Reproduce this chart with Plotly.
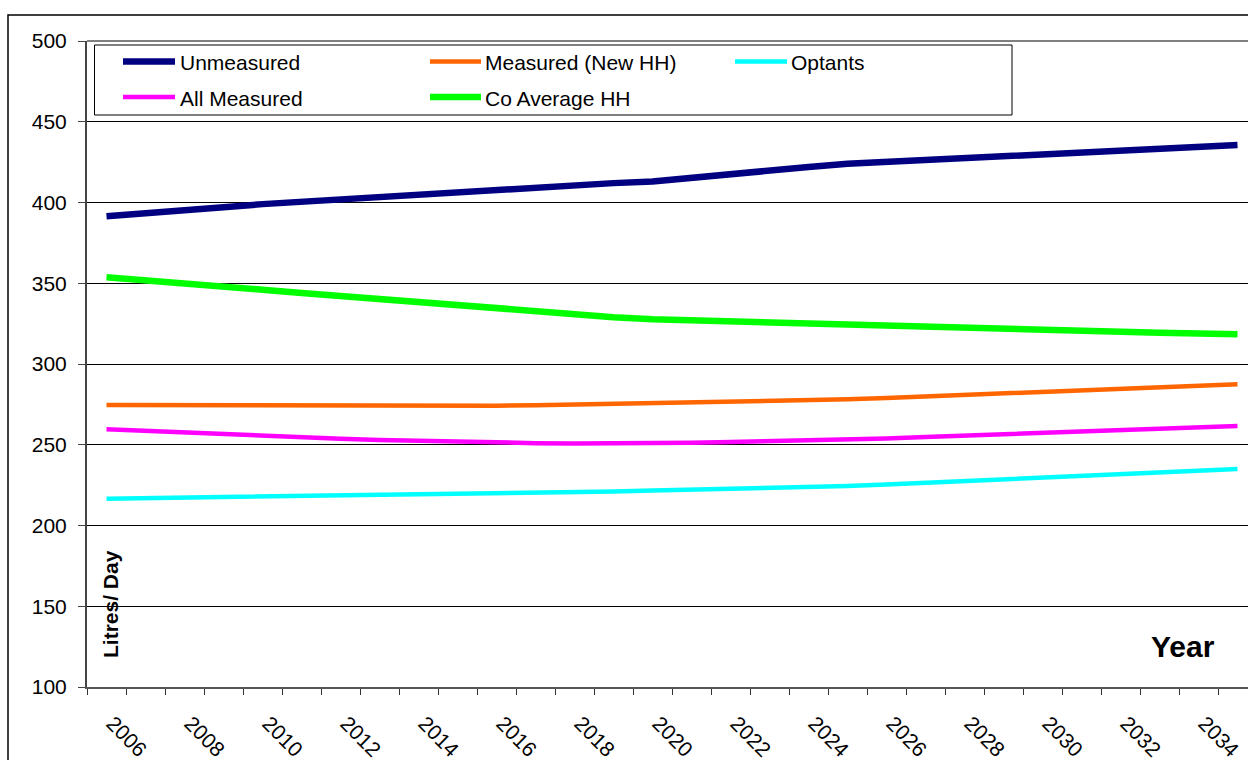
import plotly.graph_objects as go

years = list(range(2006, 2036))

unmeasured = [391.5, 393, 395, 397, 399, 400.5, 402, 403.5, 405, 406.5,
              408, 409.5, 411, 412, 413, 415.5, 418, 420, 422, 424,
              425.2, 426.4, 427.6, 428.8, 430, 431.2, 432.4, 433.5, 434.6, 435.6]
measured_new = [274.6, 274.5, 274.4, 274.3, 274.2, 274.1, 274, 274, 274, 274,
                274.2, 274.5, 274.9, 275.4, 276, 276.4, 276.8, 277.2, 277.6, 278.1,
                279, 279.9, 280.8, 281.7, 282.6, 283.6, 284.5, 285.5, 286.5, 287.4]
optants = [216.6, 216.9, 217.2, 217.5, 217.8, 218.1, 218.4, 218.7, 219.1, 219.5,
           219.9, 220.3, 220.7, 221.1, 221.6, 222.1, 222.6, 223.2, 223.8, 224.4,
           225.4, 226.4, 227.5, 228.5, 229.6, 230.7, 231.8, 232.9, 234, 235]
all_measured = [259.6, 258.5, 257.5, 256.5, 255.5, 254.5, 253.7, 253, 252.4, 251.8,
                251.3, 251, 250.8, 250.8, 250.9, 251.3, 251.7, 252.1, 252.5, 253,
                253.9, 254.8, 255.7, 256.6, 257.5, 258.3, 259.1, 259.9, 260.8, 261.6]
co_average = [353.7, 352, 350, 348, 346, 344, 342, 340, 338.5, 336.5,
              334.5, 332.5, 330.5, 329, 327.7, 327, 326.2, 325.5, 324.8, 324.2,
              323.5, 322.8, 322.2, 321.5, 320.9, 320.3, 319.8, 319.3, 318.9, 318.4]

label_years = list(range(2006, 2035, 2))
tick_labels = [str(y) for y in label_years]
y_ticks = list(range(100, 501, 50))

series = [
    ("Unmeasured", unmeasured, "#000080", 6.5),
    ("Measured (New HH)", measured_new, "#FF6600", 4.5),
    ("Optants", optants, "#00FFFF", 4.5),
    ("All Measured", all_measured, "#FF00FF", 4.5),
    ("Co Average HH", co_average, "#00FF00", 6.5),
]

FONT = "Arial, Liberation Sans, sans-serif"
W, H = 1248, 760
L, T, B = 87, 41, 73
PW = W - L
PH = H - T - B

def px(x):
    return (x - L) / PW

def py(y):
    return (H - B - y) / PH

fig = go.Figure()
for name, vals, color, width in series:
    fig.add_trace(go.Scatter(x=years, y=vals, mode="lines", name=name,
                             line=dict(color=color, width=width),
                             showlegend=False))

shapes = []
annotations = []

# outer chart border
shapes.append(dict(type="rect", xref="paper", yref="paper",
                   x0=px(8), x1=px(1300), y0=py(820), y1=py(15),
                   line=dict(color="black", width=1.5), fillcolor="rgba(0,0,0,0)",
                   layer="above"))
# top plot border (grey)
shapes.append(dict(type="line", xref="paper", yref="paper",
                   x0=0, x1=1, y0=1, y1=1, line=dict(color="#808080", width=2)))

# legend box
shapes.append(dict(type="rect", xref="paper", yref="paper",
                   x0=px(94.5), x1=px(1012), y0=py(115), y1=py(45),
                   line=dict(color="black", width=1), fillcolor="white",
                   layer="above"))

legend_pos = [
    (123, 175, 178, 61.5),
    (430, 481, 483, 61.5),
    (735, 787, 789, 61.5),
    (123, 175, 178, 97),
    (430, 481, 483, 97),
]
for (name, vals, color, width), (lx0, lx1, tx, ly) in zip(series, legend_pos):
    shapes.append(dict(type="line", xref="paper", yref="paper",
                       x0=px(lx0), x1=px(lx1), y0=py(ly), y1=py(ly),
                       line=dict(color=color, width=width), layer="above"))
    annotations.append(dict(xref="paper", yref="paper", x=px(tx), y=py(ly + 1),
                            xanchor="left", yanchor="middle", showarrow=False,
                            text=name, font=dict(family=FONT, size=21, color="black")))

annotations.append(dict(xref="paper", yref="paper", x=px(110), y=py(604),
                        text="<b>Litres/ Day</b>", textangle=-90, showarrow=False,
                        xanchor="center", yanchor="middle",
                        font=dict(family=FONT, size=21, color="black")))
annotations.append(dict(xref="paper", yref="paper", x=px(1183), y=py(646),
                        text="<b>Year</b>", showarrow=False,
                        xanchor="center", yanchor="middle",
                        font=dict(family=FONT, size=30, color="black")))

fig.update_layout(
    width=W, height=H,
    margin=dict(l=L, r=0, t=T, b=B, pad=0),
    paper_bgcolor="white", plot_bgcolor="white",
    font=dict(family=FONT, size=21, color="black"),
    shapes=shapes, annotations=annotations,
    xaxis=dict(
        type="linear", range=[2005.5, 2005.5 + PW / 39.0],
        tickmode="array", tickvals=label_years, ticktext=tick_labels,
        tickangle=45, ticks="", ticklabelstandoff=14, ticklabelshift=6,
        tickfont=dict(family=FONT, size=21, color="black"),
        showgrid=False, zeroline=False,
        showline=True, linecolor="#555555", linewidth=2,
        minor=dict(tickmode="array", tickvals=[y - 0.5 for y in years] + [2035.5],
                   ticks="outside", ticklen=6, tickcolor="#333333", tickwidth=1,
                   showgrid=False),
    ),
    yaxis=dict(
        range=[100, 500], tickmode="array", tickvals=y_ticks,
        ticks="outside", ticklen=7, tickcolor="#444444", tickwidth=1,
        ticklabelstandoff=7,
        tickfont=dict(family=FONT, size=21, color="black"),
        showgrid=True, gridcolor="black", gridwidth=1, zeroline=False,
        showline=True, linecolor="#444444", linewidth=2,
    ),
)

fig.write_html("out.html")
